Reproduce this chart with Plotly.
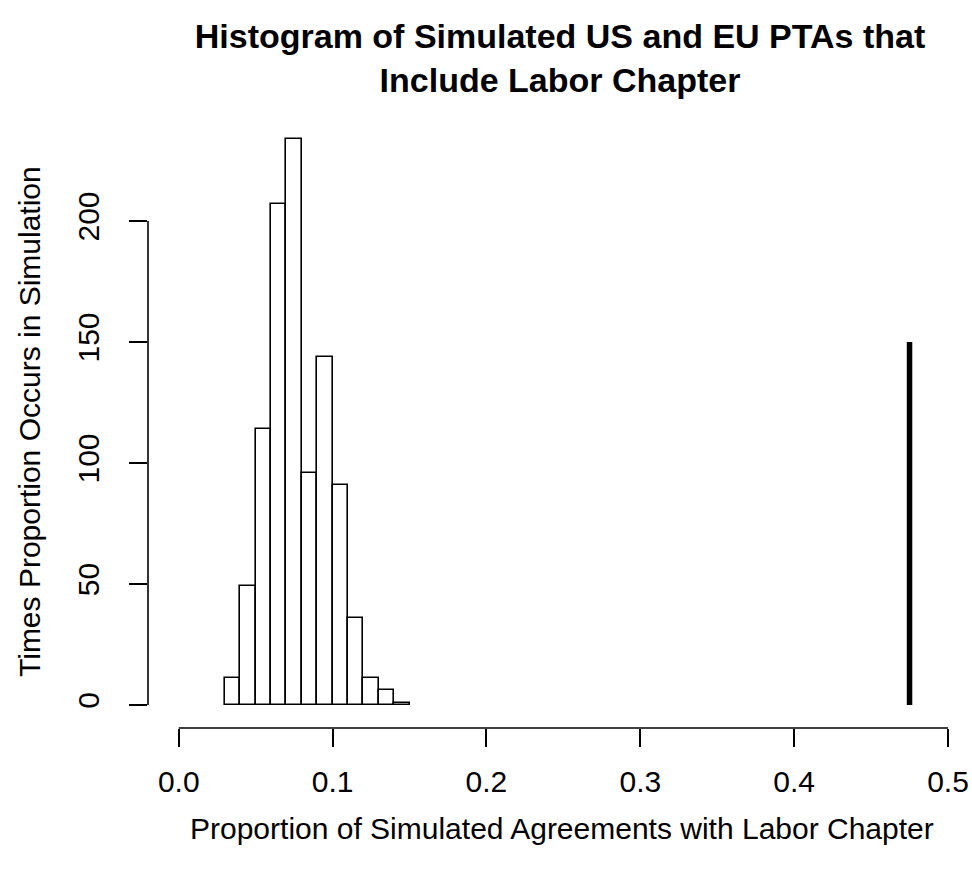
import plotly.graph_objects as go

# Histogram bins (width 0.01) and counts
bin_left = [0.03, 0.04, 0.05, 0.06, 0.07, 0.08, 0.09, 0.10, 0.11, 0.12, 0.13, 0.14]
bin_width = 0.01
counts = [11, 49, 114, 207, 234, 96, 144, 91, 36, 11, 6, 1]

# Observed proportion line
observed_x = 0.475
observed_height = 150

x_ticks = [0.0, 0.1, 0.2, 0.3, 0.4, 0.5]
x_tick_labels = ["0.0", "0.1", "0.2", "0.3", "0.4", "0.5"]
y_ticks = [0, 50, 100, 150, 200]
y_tick_labels = ["0", "50", "100", "150", "200"]

FONT = "Liberation Sans, Arial, Helvetica, sans-serif"

bin_centers = [b + bin_width / 2 for b in bin_left]

fig = go.Figure()
fig.add_trace(go.Bar(
    x=bin_centers, y=counts, width=bin_width,
    marker=dict(color="white", line=dict(color="black", width=1.6)),
    showlegend=False, hoverinfo="x+y",
))
fig.add_trace(go.Scatter(
    x=[observed_x, observed_x], y=[0, observed_height], mode="lines",
    line=dict(color="black", width=5.5), showlegend=False,
))

# axis lines spanning only the tick range (R style)
fig.add_shape(type="line", xref="x", yref="paper", x0=x_ticks[0], x1=x_ticks[-1],
              y0=0, y1=0, line=dict(color="black", width=1.6))
fig.add_shape(type="line", xref="paper", yref="y", x0=0, x1=0,
              y0=y_ticks[0], y1=y_ticks[-1], line=dict(color="black", width=1.6))

fig.update_layout(
    width=972, height=870,
    margin=dict(l=148, r=0, t=116, b=142),
    plot_bgcolor="white", paper_bgcolor="white",
    font=dict(family=FONT, color="black", size=30),
    bargap=0,
    title=dict(
        text="<b>Histogram of Simulated US and EU PTAs that<br>Include Labor Chapter</b>",
        x=0.5, xanchor="center", xref="paper",
        y=0.945, yanchor="top", yref="container",
        font=dict(family=FONT, size=34, color="black"),
    ),
    xaxis=dict(
        range=[-0.02, 0.5156], showgrid=False, zeroline=False, showline=False,
        tickmode="array", tickvals=x_ticks, ticktext=x_tick_labels,
        ticks="outside", ticklen=18, tickwidth=1.6, tickcolor="black",
        ticklabelstandoff=9, tickfont=dict(size=30),
    ),
    yaxis=dict(
        range=[-9.5, 243.4], showgrid=False, zeroline=False, showline=False,
        tickmode="array", tickvals=y_ticks, ticktext=y_tick_labels,
        ticks="outside", ticklen=18, tickwidth=1.6, tickcolor="black",
        tickangle=-90, ticklabelstandoff=18, tickfont=dict(size=30),
    ),
    annotations=[
        dict(text="Proportion of Simulated Agreements with Labor Chapter",
             xref="paper", yref="paper", x=0.503, y=0, yshift=-100,
             xanchor="center", yanchor="middle", showarrow=False,
             font=dict(size=30)),
        dict(text="Times Proportion Occurs in Simulation",
             xref="paper", yref="paper", x=0, xshift=-119, y=0.5,
             xanchor="center", yanchor="middle", textangle=-90, showarrow=False,
             font=dict(size=30)),
    ],
)

fig.write_html(
    "out.html",
    config={"displayModeBar": False},
    post_script="document.body.style.margin='0';document.body.style.overflow='hidden';",
)
